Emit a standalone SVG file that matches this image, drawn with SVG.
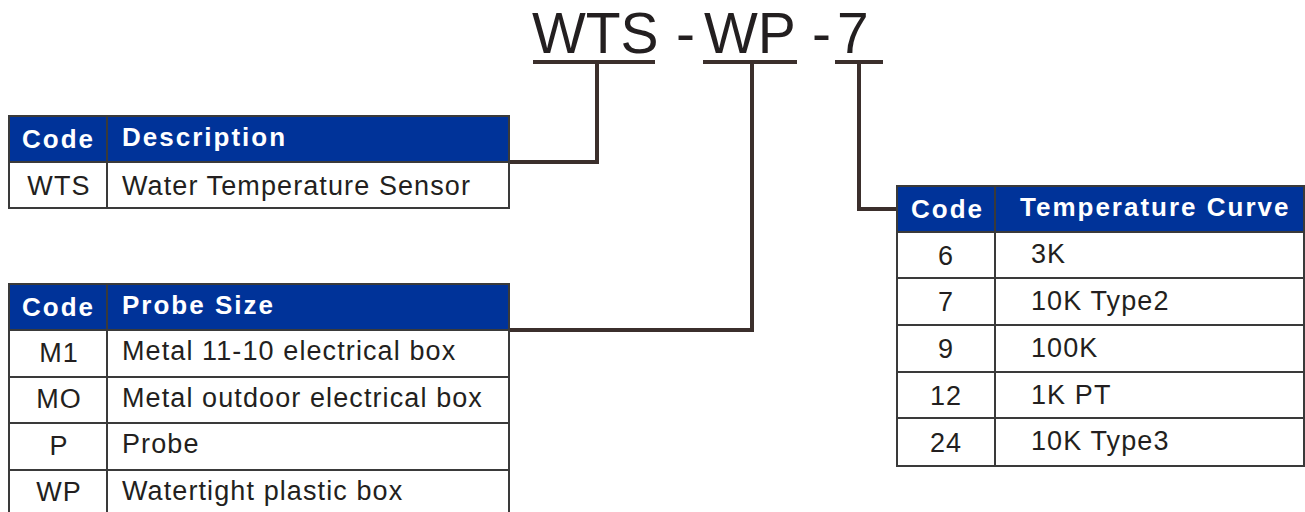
<svg xmlns="http://www.w3.org/2000/svg" width="1305" height="512" viewBox="0 0 1305 512">
<style>
.hd{fill:#003399;stroke:#3a3a3a;stroke-width:2}
.cell{fill:#ffffff;stroke:#3a3a3a;stroke-width:2}
.ht{font-family:"Liberation Sans",Arial,sans-serif;font-weight:bold;font-size:26px;fill:#ffffff;letter-spacing:2px}
.bt{font-family:"Liberation Sans",Arial,sans-serif;font-size:27px;fill:#231f20;letter-spacing:1.1px}
.title{font-family:"Liberation Sans",Arial,sans-serif;font-size:57px;fill:#231f20}
.ul{stroke:#3b2f2c;stroke-width:4;fill:none}
.conn{stroke:#3b2f2c;stroke-width:4;fill:none}
.c{text-anchor:middle}
</style>
<rect width="1305" height="512" fill="#ffffff"/>
<g id="title">
<text class="title" x="532" y="53">WTS</text>
<text class="title" x="676" y="53">-</text>
<text class="title" x="704" y="53">WP</text>
<text class="title" x="812" y="53">-</text>
<text class="title" x="837" y="53">7</text>
<line class="ul" x1="533" y1="62" x2="655" y2="62"/>
<line class="ul" x1="703" y1="62" x2="797" y2="62"/>
<line class="ul" x1="835" y1="62" x2="883" y2="62"/>
</g>
<g id="connectors">
<polyline class="conn" points="597,62 597,162 509,162"/>
<polyline class="conn" points="752,62 752,330 509,330"/>
<polyline class="conn" points="859,62 859,209 897,209"/>
</g>
<g id="table-description">
<rect class="hd" x="9" y="116" width="98" height="46"/>
<rect class="hd" x="107" y="116" width="402" height="46"/>
<rect class="cell" x="9" y="162" width="98" height="46"/>
<rect class="cell" x="107" y="162" width="402" height="46"/>
<text class="ht" x="22" y="148">Code</text>
<text class="ht" x="122" y="146">Description</text>
<text class="bt c" x="59" y="195">WTS</text>
<text class="bt" x="122" y="195">Water Temperature Sensor</text>
</g>
<g id="table-probe">
<rect class="hd" x="9" y="284" width="98" height="46"/>
<rect class="hd" x="107" y="284" width="402" height="46"/>
<rect class="cell" x="9" y="330" width="98" height="47"/>
<rect class="cell" x="107" y="330" width="402" height="47"/>
<rect class="cell" x="9" y="377" width="98" height="46"/>
<rect class="cell" x="107" y="377" width="402" height="46"/>
<rect class="cell" x="9" y="423" width="98" height="47"/>
<rect class="cell" x="107" y="423" width="402" height="47"/>
<rect class="cell" x="9" y="470" width="98" height="46"/>
<rect class="cell" x="107" y="470" width="402" height="46"/>
<text class="ht" x="22" y="316">Code</text>
<text class="ht" x="122" y="314">Probe Size</text>
<text class="bt c" x="59" y="362">M1</text>
<text class="bt" x="122" y="360">Metal 11-10 electrical box</text>
<text class="bt c" x="59" y="408">MO</text>
<text class="bt" x="122" y="407">Metal outdoor electrical box</text>
<text class="bt c" x="59" y="455">P</text>
<text class="bt" x="122" y="453">Probe</text>
<text class="bt c" x="59" y="501">WP</text>
<text class="bt" x="122" y="500">Watertight plastic box</text>
</g>
<g id="table-curve">
<rect class="hd" x="897" y="186" width="98" height="46"/>
<rect class="hd" x="995" y="186" width="309" height="46"/>
<rect class="cell" x="897" y="232" width="98" height="46"/>
<rect class="cell" x="995" y="232" width="309" height="46"/>
<rect class="cell" x="897" y="278" width="98" height="47"/>
<rect class="cell" x="995" y="278" width="309" height="47"/>
<rect class="cell" x="897" y="325" width="98" height="47"/>
<rect class="cell" x="995" y="325" width="309" height="47"/>
<rect class="cell" x="897" y="372" width="98" height="46"/>
<rect class="cell" x="995" y="372" width="309" height="46"/>
<rect class="cell" x="897" y="418" width="98" height="48"/>
<rect class="cell" x="995" y="418" width="309" height="48"/>
<text class="ht" x="911" y="218">Code</text>
<text class="ht" x="1020" y="216">Temperature Curve</text>
<text class="bt c" x="946" y="265">6</text>
<text class="bt" x="1031" y="263">3K</text>
<text class="bt c" x="946" y="311">7</text>
<text class="bt" x="1031" y="310">10K Type2</text>
<text class="bt c" x="946" y="358">9</text>
<text class="bt" x="1031" y="357">100K</text>
<text class="bt c" x="946" y="405">12</text>
<text class="bt" x="1031" y="404">1K PT</text>
<text class="bt c" x="946" y="452">24</text>
<text class="bt" x="1031" y="450">10K Type3</text>
</g>
</svg>
